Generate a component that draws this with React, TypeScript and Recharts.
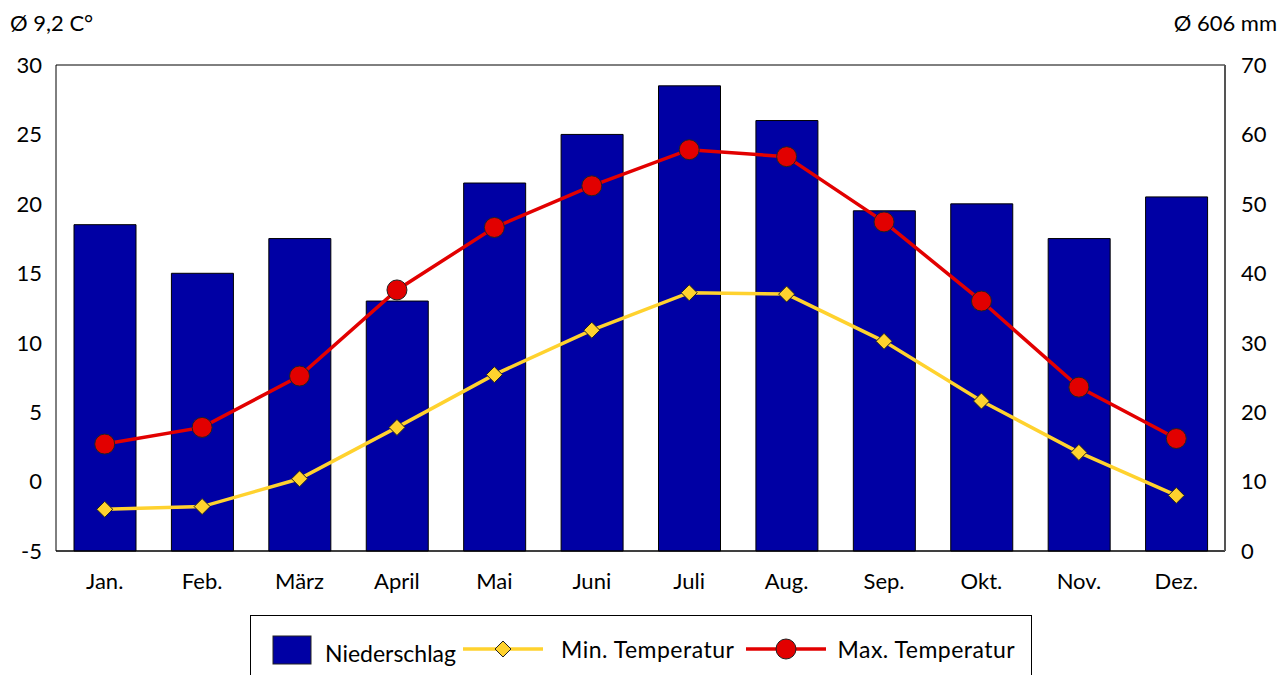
import {
  Bar,
  CartesianGrid,
  ComposedChart,
  Line,
  XAxis,
  YAxis,
} from 'recharts'

const MONTHS = ['Jan.', 'Feb.', 'März', 'April', 'Mai', 'Juni', 'Juli', 'Aug.', 'Sep.', 'Okt.', 'Nov.', 'Dez.']
const PRECIP = [47, 40, 45, 36, 53, 60, 67, 62, 49, 50, 45, 51]
const TEMP_MIN = [-2.0, -1.8, 0.2, 3.9, 7.7, 10.9, 13.6, 13.5, 10.1, 5.8, 2.1, -1.0]
const TEMP_MAX = [2.7, 3.9, 7.6, 13.8, 18.3, 21.3, 23.9, 23.4, 18.7, 13.0, 6.8, 3.1]
const TEMP_TICKS = [-5, 0, 5, 10, 15, 20, 25, 30]
const PRECIP_TICKS = [0, 10, 20, 30, 40, 50, 60, 70]

const BAR_COLOR = '#0000A4'
const MIN_COLOR = '#FFD22E'
const MAX_COLOR = '#E20000'
const FONT = 'Lato, "Open Sans", sans-serif'

const data = MONTHS.map((m, i) => ({
  month: m,
  precip: PRECIP[i],
  tmin: TEMP_MIN[i],
  tmax: TEMP_MAX[i],
}))

interface DotProps {
  cx?: number
  cy?: number
}

function Diamond({ cx, cy }: DotProps) {
  if (cx == null || cy == null) return null
  const r = 8
  return (
    <polygon
      points={`${cx},${cy - r} ${cx + r},${cy} ${cx},${cy + r} ${cx - r},${cy}`}
      fill={MIN_COLOR}
      stroke="#222"
      strokeWidth={1}
    />
  )
}

const tickStyle = { fill: '#000', fontSize: 22, fontFamily: FONT }

export default function App() {
  return (
    <div style={{ position: 'absolute', left: 0, top: 0, width: 1287, height: 675, background: '#fff', fontFamily: FONT, overflow: 'hidden' }}>
      <div style={{ position: 'absolute', left: 10, top: 9, fontSize: 22 }}>Ø 9,2 C°</div>
      <div style={{ position: 'absolute', right: 10, top: 9, fontSize: 22 }}>Ø 606 mm</div>
      <ComposedChart
        width={1287}
        height={610}
        data={data}
        margin={{ top: 65, right: 0, left: 0, bottom: 0 }}
      >
        <CartesianGrid stroke="#000" strokeWidth={1} vertical={false} />
        <XAxis
          dataKey="month"
          height={59}
          tick={tickStyle}
          tickLine={false}
          axisLine={{ stroke: '#000' }}
          dy={14}
        />
        <YAxis
          yAxisId="t"
          orientation="left"
          width={56}
          domain={[-5, 30]}
          ticks={TEMP_TICKS}
          tick={tickStyle}
          tickLine={false}
          axisLine={{ stroke: '#000' }}
          interval={0}
          dx={-6}
        />
        <YAxis
          yAxisId="p"
          orientation="right"
          width={62}
          domain={[0, 70]}
          ticks={PRECIP_TICKS}
          tick={tickStyle}
          tickLine={false}
          axisLine={{ stroke: '#555', strokeWidth: 2 }}
          interval={0}
          dx={8}
        />
        <Bar
          yAxisId="p"
          dataKey="precip"
          barSize={62}
          fill={BAR_COLOR}
          stroke="#000"
          strokeWidth={1}
          isAnimationActive={false}
        />
        <Line
          yAxisId="t"
          type="linear"
          dataKey="tmin"
          stroke={MIN_COLOR}
          strokeWidth={3.5}
          dot={<Diamond />}
          activeDot={false}
          isAnimationActive={false}
        />
        <Line
          yAxisId="t"
          type="linear"
          dataKey="tmax"
          stroke={MAX_COLOR}
          strokeWidth={3.5}
          dot={{ r: 10, fill: MAX_COLOR, stroke: '#222', strokeWidth: 1 }}
          activeDot={false}
          isAnimationActive={false}
        />
      </ComposedChart>
      <div
        style={{
          position: 'absolute',
          left: 250,
          top: 615,
          width: 782,
          height: 70,
          border: '1px solid #000',
          boxSizing: 'border-box',
          display: 'flex',
          alignItems: 'flex-start',
          paddingTop: 19,
          fontSize: 23,
        }}
      >
        <svg width={40} height={30} style={{ marginLeft: 21 }}>
          <rect x={1} y={1} width={38} height={28} fill={BAR_COLOR} stroke="#222" />
        </svg>
        <span style={{ marginLeft: 13, marginTop: 4 }}>Niederschlag</span>
        <svg width={80} height={24} style={{ marginLeft: 7, marginTop: 2 }}>
          <line x1={0} y1={12} x2={80} y2={12} stroke={MIN_COLOR} strokeWidth={3.5} />
          <polygon points="40,4 48,12 40,20 32,12" fill={MIN_COLOR} stroke="#222" />
        </svg>
        <span style={{ marginLeft: 18, letterSpacing: 0.5 }}>Min. Temperatur</span>
        <svg width={80} height={24} style={{ marginLeft: 12, marginTop: 2 }}>
          <line x1={0} y1={12} x2={80} y2={12} stroke={MAX_COLOR} strokeWidth={3.5} />
          <circle cx={40} cy={12} r={10} fill={MAX_COLOR} stroke="#222" />
        </svg>
        <span style={{ marginLeft: 11, letterSpacing: 0.5 }}>Max. Temperatur</span>
      </div>
    </div>
  )
}
